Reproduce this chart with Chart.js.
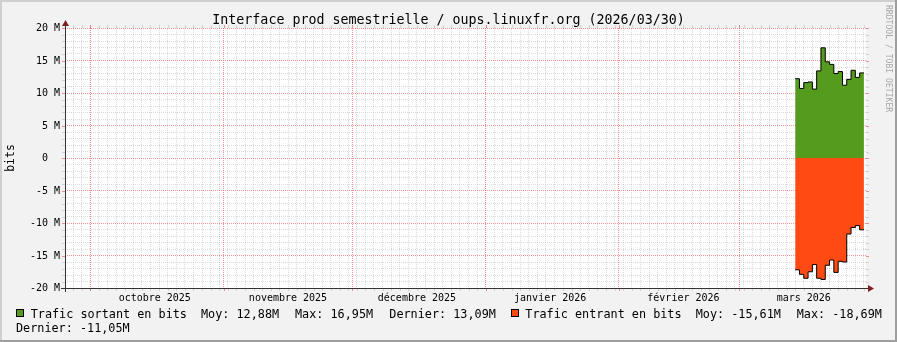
<!DOCTYPE html>
<html><head><meta charset="utf-8">
<script src="https://cdn.jsdelivr.net/npm/chart.js@4"></script>
<style>
html,body{margin:0;padding:0;background:#f2f2f2;overflow:hidden}
#wrap{position:relative;width:897px;height:342px}
canvas{display:block}
</style></head>
<body><div id="wrap"><canvas id="c" width="897" height="342"></canvas></div>
<script>
// ---------- data ----------
const chartTitle = 'Interface prod semestrielle / oups.linuxfr.org (2026/03/30)';
const yAxisTitle = 'bits';
const watermark = 'RRDTOOL / TOBI OETIKER';

// origin of the day axis: 2025-10-01
const originDate = '2025-10-01';
const viewStartDay = -5.886;   // left edge of the plot (days from origin)
const viewEndDay = 180.48;     // right edge of the plot

const monthStarts = ['2025-10-01','2025-11-01','2025-12-01','2026-01-01','2026-02-01','2026-03-01'];
const monthLabels = ['octobre 2025','novembre 2025','décembre 2025','janvier 2026','février 2026','mars 2026'];
const monthLabelOffsetDays = 15;
const minorGridStepDays = 2;

const yMajorTicks = [-20,-15,-10,-5,0,5,10,15,20];
const yTickLabels = ['-20 M','-15 M','-10 M','-5 M','0  ','5 M','10 M','15 M','20 M'];
const yMinorStep = 1;

const sampleDates = ['2026-03-14','2026-03-15','2026-03-16','2026-03-17','2026-03-18','2026-03-19','2026-03-20','2026-03-21',
                     '2026-03-22','2026-03-23','2026-03-24','2026-03-25','2026-03-26','2026-03-27','2026-03-28','2026-03-29'];
const seriesEndDate = '2026-03-30';
// millions of bits per second
const outbound = [12.2,10.7,11.6,11.7,10.6,13.4,16.95,14.8,14.4,13.0,13.3,11.2,12.1,13.5,12.4,13.09];
const inbound  = [-17.2,-17.9,-18.5,-17.5,-16.4,-18.5,-18.69,-16.5,-15.7,-17.6,-15.9,-16.0,-11.7,-10.7,-10.4,-11.05];

const outLabel = 'Trafic sortant en bits';
const inLabel = 'Trafic entrant en bits';
const outStats = ['Moy: 12,88M', 'Max: 16,95M', 'Dernier: 13,09M'];
const inStats = ['Moy: -15,61M', 'Max: -18,69M', 'Dernier: -11,05M'];

// ---------- styles ----------
const GREEN = '#559b1e';
const ORANGE = '#ff4a14';
const GRID = 'rgba(150,150,150,0.34)';
const MGRID = 'rgba(230,80,80,0.62)';
const AXIS = '#333333';
const ARROW = '#801f1f';
const MONO = '"DejaVu Sans Mono", monospace';

const toDay = s => (Date.parse(s + 'T00:00:00Z') - Date.parse(originDate + 'T00:00:00Z')) / 864e5;
const mkPts = vals => {
  const pts = sampleDates.map((d, i) => ({x: toDay(d), y: vals[i]}));
  pts.push({x: toDay(seriesEndDate), y: vals[vals.length - 1]});
  return pts;
};
const majorX = monthStarts.map(toDay);
const labelX = majorX.map(d => d + monthLabelOffsetDays);
const minorX = [];
for (let d = Math.ceil(viewStartDay / minorGridStepDays) * minorGridStepDays; d < viewEndDay; d += minorGridStepDays) minorX.push(d);
const minorY = [];
for (let v = yMajorTicks[0]; v <= yMajorTicks[yMajorTicks.length - 1]; v += yMinorStep) if (!yMajorTicks.includes(v)) minorY.push(v);

const gridScale = (ticks, color, z, extra) => Object.assign({
  type: 'linear', display: true,
  afterBuildTicks: s => { s.ticks = ticks.map(v => ({value: v})); },
  grid: {color, lineWidth: 1, drawTicks: false, z},
  border: {display: false, dash: [1, 1]},
  ticks: {display: false}
}, extra);

const rrdPlugin = {
  id: 'rrd',
  beforeDraw(chart) {
    const {ctx, chartArea: a, width: W, height: H} = chart;
    ctx.save();
    ctx.fillStyle = '#f2f2f2'; ctx.fillRect(0, 0, W, H);
    ctx.fillStyle = '#cfcfcf'; ctx.fillRect(0, 0, W, 2); ctx.fillRect(0, 0, 2, H);
    ctx.fillStyle = '#9e9e9e'; ctx.fillRect(0, H - 2, W, 2); ctx.fillRect(W - 2, 0, 2, H);
    ctx.fillStyle = '#ffffff'; ctx.fillRect(a.left, a.top, a.right - a.left, a.bottom - a.top);
    // grid end ticks
    const ys = chart.scales.y, xs = chart.scales.x;
    ctx.lineWidth = 1;
    const hTicks = (vals, col) => {
      ctx.strokeStyle = col;
      vals.forEach(v => {
        const y = Math.round(ys.getPixelForValue(v)) + 0.5;
        ctx.beginPath(); ctx.moveTo(a.left - 3, y); ctx.lineTo(a.left, y);
        ctx.moveTo(a.right, y); ctx.lineTo(a.right + 3, y); ctx.stroke();
      });
    };
    const vTicks = (vals, col) => {
      ctx.strokeStyle = col;
      vals.forEach(v => {
        const x = Math.round(xs.getPixelForValue(v)) + 0.5;
        ctx.beginPath(); ctx.moveTo(x, a.top - 3); ctx.lineTo(x, a.top);
        ctx.moveTo(x, a.bottom); ctx.lineTo(x, a.bottom + 3); ctx.stroke();
      });
    };
    hTicks(minorY, GRID); vTicks(minorX, GRID);
    hTicks(yMajorTicks, MGRID); vTicks(majorX, MGRID);
    ctx.restore();
  },
  afterDraw(chart) {
    const {ctx, chartArea: a, width: W} = chart;
    const ys = chart.scales.y, xs = chart.scales.x;
    ctx.save();
    // axes
    ctx.strokeStyle = AXIS; ctx.lineWidth = 1;
    const ax = Math.round(a.left) + 0.5, ay = Math.round(a.bottom) + 0.5;
    ctx.beginPath();
    ctx.moveTo(ax, a.bottom + 4); ctx.lineTo(ax, a.top - 4);
    ctx.moveTo(a.left - 4, ay); ctx.lineTo(a.right + 4, ay);
    ctx.stroke();
    // arrows
    ctx.fillStyle = ARROW;
    ctx.beginPath(); ctx.moveTo(ax - 3.5, a.top - 2); ctx.lineTo(ax + 3.5, a.top - 2); ctx.lineTo(ax, a.top - 8); ctx.closePath(); ctx.fill();
    ctx.beginPath(); ctx.moveTo(a.right + 2, ay - 3.5); ctx.lineTo(a.right + 2, ay + 3.5); ctx.lineTo(a.right + 8, ay); ctx.closePath(); ctx.fill();

    ctx.fillStyle = '#000';
    // title
    ctx.font = '13.3px ' + MONO; ctx.textAlign = 'center'; ctx.textBaseline = 'alphabetic';
    ctx.fillText(chartTitle, W / 2, 24);
    // y tick labels
    ctx.font = '10px ' + MONO; ctx.textAlign = 'right'; ctx.textBaseline = 'middle';
    yMajorTicks.forEach((v, i) => ctx.fillText(yTickLabels[i], a.left - 5, ys.getPixelForValue(v) + 0.5));
    // x labels
    ctx.textAlign = 'center'; ctx.textBaseline = 'alphabetic';
    labelX.forEach((d, i) => ctx.fillText(monthLabels[i], xs.getPixelForValue(d), 301));
    // y title
    ctx.save(); ctx.font = '11.5px ' + MONO; ctx.translate(14, (a.top + a.bottom) / 2); ctx.rotate(-Math.PI / 2);
    ctx.textAlign = 'center'; ctx.textBaseline = 'alphabetic'; ctx.fillText(yAxisTitle, 0, 0); ctx.restore();
    // watermark
    ctx.save(); ctx.fillStyle = '#a8a8a8'; ctx.font = '8.1px ' + MONO; ctx.translate(886, 5); ctx.rotate(Math.PI / 2);
    ctx.textAlign = 'left'; ctx.textBaseline = 'alphabetic'; ctx.fillText(watermark, 0, 0); ctx.restore();
    // legend
    ctx.font = '11.8px ' + MONO; ctx.textAlign = 'left'; ctx.textBaseline = 'alphabetic';
    const box = (x, y, col) => { ctx.fillStyle = col; ctx.fillRect(x, y, 8, 8); ctx.strokeStyle = '#000'; ctx.strokeRect(x + 0.5, y + 0.5, 7, 7); };
    box(16, 309, GREEN);
    ctx.fillStyle = '#000';
    ctx.fillText(outLabel, 30.7, 318);
    ctx.fillText(outStats[0], 201, 318);
    ctx.fillText(outStats[1], 295, 318);
    ctx.fillText(outStats[2], 389.3, 318);
    box(511, 309, ORANGE);
    ctx.fillStyle = '#000';
    ctx.fillText(inLabel, 525.3, 318);
    ctx.fillText(inStats[0], 695.7, 318);
    ctx.fillText(inStats[1], 796.7, 318);
    ctx.fillText(inStats[2], 16, 332);
    ctx.restore();
  }
};

new Chart(document.getElementById('c'), {
  type: 'line',
  data: {
    datasets: [
      {label: outLabel, data: mkPts(outbound), stepped: 'before', borderColor: '#000', borderWidth: 1,
       backgroundColor: GREEN, fill: 'origin', pointRadius: 0, xAxisID: 'x', yAxisID: 'y'},
      {label: inLabel, data: mkPts(inbound), stepped: 'before', borderColor: '#000', borderWidth: 1,
       backgroundColor: ORANGE, fill: 'origin', pointRadius: 0, xAxisID: 'x', yAxisID: 'y'}
    ]
  },
  options: {
    responsive: false, animation: false, devicePixelRatio: 1,
    layout: {padding: {left: 65, top: 28, right: 31, bottom: 54}},
    plugins: {legend: {display: false}, title: {display: false}, tooltip: {enabled: false}},
    scales: {
      xMinor: gridScale(minorX, GRID, -3, {position: 'bottom', min: viewStartDay, max: viewEndDay}),
      yMinor: gridScale(minorY, GRID, -3, {position: 'left', min: yMajorTicks[0], max: yMajorTicks[yMajorTicks.length - 1]}),
      x: gridScale(majorX, MGRID, -2, {position: 'bottom', min: viewStartDay, max: viewEndDay}),
      y: gridScale(yMajorTicks, MGRID, -2, {position: 'left', min: yMajorTicks[0], max: yMajorTicks[yMajorTicks.length - 1]})
    }
  },
  plugins: [rrdPlugin]
});
</script>
</body></html>
